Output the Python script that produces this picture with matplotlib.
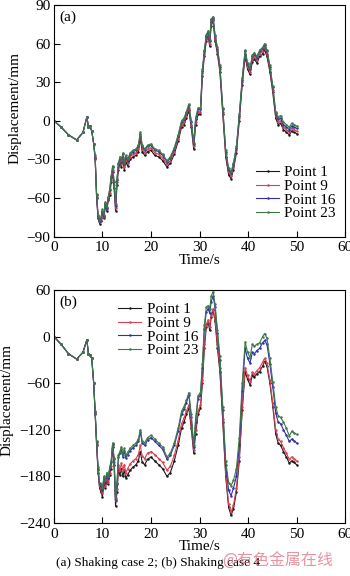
import numpy as np
import matplotlib
matplotlib.use('Agg')
import matplotlib.pyplot as plt

# time axis shared by both shaking cases (s)
t = [0, 1.5, 3, 4.7, 6.0, 6.8, 7.1, 7.4, 7.8, 8.2,
     8.5, 8.8, 9.1, 9.4, 9.7, 10.0, 10.3, 10.6, 10.9, 11.2,
     11.5, 11.8, 12.1, 12.4, 12.7, 13.0, 13.3, 13.6, 13.9, 14.2,
     14.5, 14.8, 15.2, 15.7, 16.3, 16.9, 17.4, 17.8, 18.2, 18.7,
     19.3, 20.0, 20.8, 21.6, 22.4, 23.3, 24.0, 24.8, 25.6, 26.3,
     26.8, 27.3, 27.8, 28.3, 28.8, 29.2, 29.7, 30.2, 30.6, 31.0,
     31.4, 31.8, 32.1, 32.4, 32.8, 33.2, 33.7, 34.2, 34.8, 35.4,
     36.0, 36.5, 37.0, 37.6, 38.2, 38.8, 39.4, 39.9, 40.4, 40.9,
     41.3, 41.8, 42.4, 43.0, 43.4, 43.9, 44.5, 45.1, 45.7, 46.2,
     46.7, 47.3, 47.9, 48.5, 49.0, 49.5, 50.0]

# (a) shaking case 2, displacement in mm
p1_a = [0, -5, -11, -15, -9, 3, -5, -4, -8, -18,
        -30, -60, -76, -80, -78, -72, -76, -66, -70, -62,
        -58, -48, -40, -52, -70, -50, -38, -33, -36, -30,
        -38, -32, -35, -30, -28, -27, -24, -14, -24, -27,
        -24, -23, -27, -28, -31, -36, -33, -26, -16, -5,
        -3, 2, 8, -5, -22, -3, 5, 5, 35, 50,
        62, 65, 58, 74, 78, 62, 52, 38, 5, -28,
        -42, -45, -38, -25, 0, 28, 50, 40, 36, 46,
        48, 45, 50, 52, 55, 50, 38, 22, 2, -3,
        -2, -7, -9, -11, -8, -9, -10]
p9_a = [0, -5, -11, -15, -9, 3, -5, -4, -8, -18,
        -29, -59, -75, -79, -77, -71, -75, -65, -69, -61,
        -56, -46, -38, -50, -68, -48, -36, -31, -34, -28,
        -36, -30, -33, -28, -26, -25, -22, -12, -22, -25,
        -22, -21, -25, -26, -29, -34, -31, -24, -14, -3,
        -1, 4, 10, -3, -20, -1, 7, 7, 37, 52,
        64, 67, 60, 76, 79, 64, 54, 40, 7, -26,
        -40, -43, -36, -23, 2, 30, 52, 42, 38, 48,
        50, 47, 52, 54, 57, 52, 40, 24, 4, -1,
        0, -5, -7, -9, -6, -7, -8]
p16_a = [0, -5, -11, -15, -9, 3, -5, -4, -8, -18,
         -28, -58, -74, -78, -76, -70, -74, -64, -68, -60,
         -54, -44, -36, -48, -66, -46, -34, -29, -32, -26,
         -34, -28, -31, -26, -24, -23, -20, -10, -20, -23,
         -20, -19, -23, -24, -27, -32, -29, -22, -12, -1,
         1, 6, 12, -1, -18, 1, 9, 9, 39, 54,
         66, 69, 62, 78, 80, 66, 56, 42, 9, -24,
         -38, -41, -34, -21, 4, 32, 54, 44, 40, 50,
         52, 49, 54, 56, 59, 54, 42, 26, 6, 1,
         2, -3, -5, -7, -4, -5, -6]
p23_a = [0, -5, -11, -15, -9, 3, -5, -4, -8, -18,
         -27, -57, -73, -77, -75, -69, -73, -63, -67, -59,
         -53, -43, -35, -47, -65, -45, -33, -28, -31, -25,
         -33, -27, -30, -25, -23, -22, -19, -9, -19, -22,
         -19, -18, -22, -23, -26, -31, -28, -21, -11, 0,
         2, 7, 13, 0, -17, 2, 10, 10, 40, 55,
         67, 70, 63, 79, 81, 67, 57, 43, 10, -23,
         -37, -40, -33, -20, 5, 33, 55, 45, 41, 51,
         53, 50, 55, 57, 60, 55, 43, 27, 7, 3,
         4, -1, -3, -5, -2, -3, -4]

# (b) shaking case 4, displacement in mm
p1_b = [0, -10, -22, -29, -20, -4, -22, -24, -28, -60,
        -100, -140, -175, -195, -200, -206, -190, -195, -185, -190,
        -178, -170, -142, -165, -218, -200, -172, -178, -170, -180,
        -172, -182, -178, -172, -168, -165, -160, -148, -162, -165,
        -158, -155, -160, -165, -170, -180, -175, -160, -140, -118,
        -110, -100, -92, -118, -150, -125, -100, -92, -60, -15,
        12, 18, 8, 25, 34, 20, -15, -45, -110, -180,
        -220, -230, -222, -200, -160, -95, -45, -55, -62, -50,
        -52, -48, -45, -38, -32, -38, -60, -90, -125, -137,
        -140, -148, -155, -163, -160, -162, -165]
p9_b = [0, -10, -22, -29, -20, -4, -22, -24, -28, -60,
        -98, -138, -172, -192, -196, -202, -187, -192, -182, -187,
        -175, -166, -140, -162, -212, -196, -165, -172, -163, -172,
        -165, -175, -170, -164, -160, -157, -152, -140, -154, -157,
        -150, -148, -152, -157, -162, -172, -167, -153, -134, -112,
        -105, -96, -88, -114, -146, -120, -96, -88, -56, -10,
        16, 22, 12, 28, 36, 24, -10, -40, -106, -176,
        -215, -226, -217, -195, -155, -90, -40, -50, -58, -46,
        -48, -44, -40, -33, -28, -34, -56, -86, -120, -132,
        -135, -143, -150, -158, -155, -157, -160]
p16_b = [0, -10, -22, -29, -20, -4, -22, -24, -28, -60,
         -97, -136, -170, -190, -192, -198, -182, -188, -178, -182,
         -170, -162, -138, -158, -210, -190, -155, -150, -145, -155,
         -147, -156, -152, -147, -143, -140, -135, -123, -137, -140,
         -133, -130, -135, -140, -145, -158, -153, -140, -122, -100,
         -93, -85, -75, -103, -142, -110, -80, -75, -40, 10,
         32, 36, 30, 45, 52, 38, 5, -30, -95, -165,
         -198, -205, -195, -180, -140, -70, -15, -28, -34, -20,
         -22, -18, -15, -8, -5, -10, -35, -65, -98, -110,
         -112, -120, -127, -135, -132, -134, -137]
p23_b = [0, -10, -22, -29, -20, -4, -22, -24, -28, -60,
         -96, -135, -168, -188, -190, -195, -180, -185, -175, -180,
         -168, -160, -137, -156, -208, -188, -152, -148, -142, -152,
         -144, -153, -149, -144, -140, -137, -132, -120, -134, -137,
         -130, -127, -132, -137, -142, -155, -150, -137, -118, -96,
         -90, -82, -72, -100, -140, -106, -76, -72, -35, 15,
         38, 40, 35, 52, 58, 42, 8, -25, -90, -160,
         -188, -192, -185, -170, -130, -60, -7, -20, -27, -10,
         -12, -10, -8, 0, 4, -2, -28, -58, -90, -102,
         -104, -110, -118, -128, -122, -124, -126]

labels = ['Point 1', 'Point 9', 'Point 16', 'Point 23']
colors = ['#1a1a1a', '#d8404f', '#2f2fb0', '#3f7a46']

plt.rcParams['font.family'] = ['Liberation Serif', 'DejaVu Serif']
fs = 11

fig = plt.figure(figsize=(3.5, 5.76), dpi=100)
ax1 = fig.add_axes([0.154, 0.5894, 0.832, 0.402])
ax2 = fig.add_axes([0.154, 0.092, 0.832, 0.4045])

for ax, series in [(ax1, [p1_a, p9_a, p16_a, p23_a]),
                   (ax2, [p1_b, p9_b, p16_b, p23_b])]:
    for y, lab, c in zip(series, labels, colors):
        ax.plot(t, y, color=c, lw=0.8, marker='.', ms=1.6, label=lab)
    ax.set_xlim(0, 60)
    ax.set_xticks(range(0, 61, 10))
    ax.tick_params(direction='in', length=4, width=0.8, top=False, right=False,
                   labelsize=fs)
    ax.tick_params(axis='x', pad=3.5)
    ax.tick_params(axis='y', pad=2.5)
    for s in ax.spines.values():
        s.set_linewidth(0.8)
    ax.set_xlabel('Time/s', fontsize=fs, labelpad=-0.5)
    ax.set_ylabel('Displacement/mm', fontsize=fs)

ax1.set_ylim(-90, 90)
ax1.set_yticks(range(-90, 91, 30))
ax1.yaxis.set_label_coords(-0.11, 0.555)
ax1.text(0.018, 0.975, '(a)', transform=ax1.transAxes, va='top', fontsize=fs)
ax1.legend(loc='lower right', bbox_to_anchor=(1.0, 0.03), frameon=False,
           fontsize=fs, handlelength=1.5, handletextpad=0.35, labelspacing=0.0,
           borderaxespad=0.2)

ax2.set_ylim(-240, 60)
ax2.set_yticks(range(-240, 61, 60))
ax2.yaxis.set_label_coords(-0.14, 0.53)
ax2.text(0.018, 0.975, '(b)', transform=ax2.transAxes, va='top', fontsize=fs)
ax2.legend(loc='upper left', bbox_to_anchor=(0.19, 0.985), frameon=False,
           fontsize=fs, handlelength=1.5, handletextpad=0.35, labelspacing=0.0,
           borderaxespad=0.2)

fig.text(0.45, 0.0226, '(a) Shaking case 2; (b) Shaking case 4', ha='center',
         va='center', fontsize=9.5)
fig.text(0.635, 0.026, '@有色金属在线', ha='left', va='center', fontsize=11.5,
         color='#e07080', alpha=0.75, family=['Noto Sans CJK SC', 'DejaVu Sans'])

fig.savefig('out.png', dpi=100)
